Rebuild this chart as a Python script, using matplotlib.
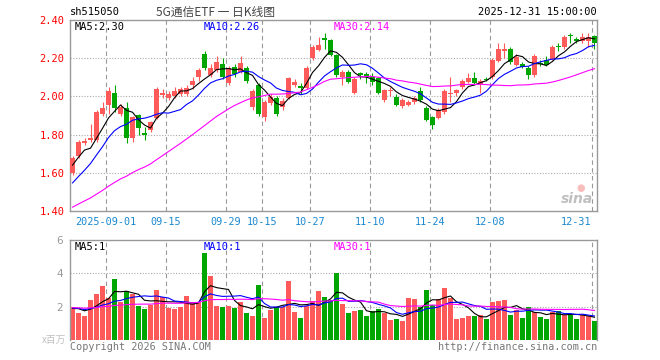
import numpy as np
import matplotlib
matplotlib.use("Agg")
import matplotlib.pyplot as plt

# daily candles of sh515050, 2025-08-22 .. 2025-12-31
opens = [1.60, 1.69, 1.755, 1.77, 1.77, 1.91, 1.955, 2.02, 1.91, 1.94,
         1.78, 1.90, 1.81, 1.825, 1.885, 2.005, 1.99, 2.00, 2.01, 2.01,
         2.06, 2.10, 2.22, 2.11, 2.14, 2.17, 2.07, 2.155, 2.13, 2.15,
         1.945, 2.06, 1.89, 1.965, 1.99, 1.945, 1.99, 2.06, 2.055, 2.045,
         2.20, 2.245, 2.305, 2.295, 2.217, 2.10, 2.13, 2.02, 2.12, 2.117,
         2.10, 2.096, 1.98, 2.03, 1.997, 1.95, 1.955, 1.97, 2.03, 1.94,
         1.89, 1.887, 1.92, 2.015, 2.018, 2.05, 2.075, 2.096, 2.065, 2.092,
         2.10, 2.185, 2.24, 2.25, 2.165, 2.17, 2.15, 2.11, 2.175, 2.19,
         2.196, 2.265, 2.26, 2.318, 2.30, 2.29, 2.29, 2.316]
closes = [1.68, 1.76, 1.765, 1.78, 1.92, 1.94, 2.03, 1.94, 1.945, 1.78,
          1.89, 1.835, 1.80, 1.865, 2.04, 2.02, 2.01, 2.03, 2.04, 2.045,
          2.08, 2.14, 2.15, 2.15, 2.18, 2.10, 2.15, 2.115, 2.175, 2.08,
          2.03, 1.91, 1.97, 1.995, 1.91, 1.975, 2.095, 2.075, 2.045, 2.15,
          2.26, 2.27, 2.295, 2.217, 2.11, 2.13, 2.075, 2.09, 2.11, 2.10,
          2.075, 2.02, 2.033, 2.035, 1.955, 1.98, 1.97, 1.99, 1.98, 1.876,
          1.85, 1.93, 2.03, 2.02, 2.033, 2.08, 2.096, 2.07, 2.08, 2.088,
          2.19, 2.25, 2.25, 2.18, 2.206, 2.155, 2.11, 2.21, 2.17, 2.165,
          2.26, 2.26, 2.31, 2.316, 2.29, 2.31, 2.31, 2.28]
highs = [1.69, 1.77, 1.78, 1.855, 1.93, 1.97, 2.05, 2.06, 1.96, 1.97,
         1.90, 1.91, 1.84, 1.87, 2.05, 2.04, 2.03, 2.05, 2.05, 2.06,
         2.10, 2.15, 2.24, 2.17, 2.21, 2.20, 2.16, 2.17, 2.21, 2.16,
         2.04, 2.07, 1.98, 2.01, 2.00, 1.99, 2.10, 2.09, 2.07, 2.16,
         2.27, 2.31, 2.33, 2.30, 2.22, 2.14, 2.14, 2.10, 2.13, 2.13,
         2.12, 2.10, 2.04, 2.05, 2.01, 1.99, 1.98, 2.00, 2.05, 1.95,
         1.90, 1.94, 2.04, 2.10, 2.04, 2.09, 2.12, 2.13, 2.09, 2.10,
         2.20, 2.28, 2.28, 2.26, 2.22, 2.18, 2.16, 2.22, 2.19, 2.21,
         2.27, 2.28, 2.32, 2.33, 2.31, 2.33, 2.33, 2.32]
lows = [1.59, 1.68, 1.745, 1.76, 1.76, 1.90, 1.91, 1.92, 1.90, 1.755,
        1.76, 1.80, 1.77, 1.815, 1.88, 1.99, 1.98, 1.99, 2.00, 2.00,
        2.04, 2.08, 2.14, 2.10, 2.13, 2.09, 2.06, 2.10, 2.12, 2.07,
        1.93, 1.90, 1.87, 1.955, 1.90, 1.93, 1.985, 2.05, 2.01, 2.04,
        2.19, 2.24, 2.25, 2.21, 2.10, 2.06, 2.07, 2.01, 2.09, 2.07,
        2.06, 2.01, 1.97, 2.00, 1.95, 1.94, 1.95, 1.96, 1.97, 1.87,
        1.83, 1.88, 1.91, 1.97, 2.00, 2.04, 2.07, 2.065, 2.02, 2.08,
        2.09, 2.18, 2.20, 2.17, 2.16, 2.15, 2.09, 2.10, 2.16, 2.16,
        2.19, 2.24, 2.25, 2.28, 2.28, 2.28, 2.26, 2.25]
# volume, millions of shares
volumes = [1.96, 1.64, 1.46, 2.40, 2.76, 3.24, 2.50, 3.66, 2.30, 2.94,
           2.76, 2.06, 1.86, 2.10, 3.00, 2.56, 1.94, 1.86, 2.00, 2.64,
           2.30, 2.30, 5.24, 3.84, 2.04, 2.00, 2.04, 1.94, 2.30, 1.64,
           1.44, 3.30, 1.34, 1.80, 1.96, 2.00, 3.54, 1.70, 1.34, 2.04,
           2.34, 2.94, 2.60, 2.40, 4.04, 2.16, 1.64, 1.74, 1.80, 1.44,
           1.74, 1.84, 1.64, 1.20, 1.26, 1.14, 2.52, 2.46, 2.00, 3.00,
           2.10, 2.46, 3.12, 2.52, 1.26, 1.32, 1.44, 1.44, 1.50, 1.26,
           2.28, 2.34, 2.40, 1.50, 1.80, 1.32, 1.98, 1.68, 1.38, 1.26,
           1.68, 1.74, 1.50, 1.50, 1.26, 1.50, 1.44, 1.14]

# the 29 sessions before the first candle (only feed the moving averages)
pre_closes = [1.26, 1.29, 1.30, 1.33, 1.35, 1.37, 1.36, 1.38, 1.35, 1.33,
              1.36, 1.40, 1.38, 1.37, 1.39, 1.36, 1.38, 1.40, 1.37, 1.40,
              1.42, 1.44, 1.43, 1.47, 1.51, 1.55, 1.58, 1.73, 1.66]
pre_volumes = [1.9, 2.1, 1.8, 2.0, 1.7, 2.2, 1.9, 1.8, 2.1, 2.0,
               1.9, 1.7, 2.2, 2.0, 1.8, 1.9, 2.1, 2.0, 1.8, 2.0,
               1.9, 2.2, 1.8, 1.9, 2.0, 1.7, 2.1, 1.9, 1.8]

date_pos = [6, 16, 26, 32, 40, 50, 60, 70, 87]
date_labels = ['2025-09-01', '09-15', '09-29', '10-15', '10-27',
               '11-10', '11-24', '12-08', '12-31']
price_ticks = [1.40, 1.60, 1.80, 2.00, 2.20, 2.40]
vol_ticks = [2, 4, 6]
ma_texts = ['MA5:2.30', 'MA10:2.26', 'MA30:2.14']
vol_ma_texts = ['MA5:1', 'MA10:1', 'MA30:1']

RED = '#ff5a5a'
GREEN = '#00a600'
MA_COLORS = ['black', '#0000ff', '#ff00ff']
MONO = 'DejaVu Sans Mono'
CJK = ['Noto Sans CJK SC', 'DejaVu Sans']


def moving_avg(pre, vals, n):
    full = np.array(pre + vals, dtype=float)
    out = np.convolve(full, np.ones(n) / n, mode='valid')
    return out[-len(vals):]


def fx(px):
    return px / 660.0


def fy(py):
    return 1 - py / 360.0


o = np.array(opens)
c = np.array(closes)
x = np.arange(len(c))
cols = np.where(c >= o, RED, GREEN)
xlim = (-0.42, len(c) - 1 + 0.42)
grid_x = [p - 0.42 for p in date_pos]

fig = plt.figure(figsize=(6.6, 3.6), dpi=100)
ax = fig.add_axes([fx(70), fy(211), fx(527), 191 / 360.0])
axv = fig.add_axes([fx(70), fy(340), fx(527), 100 / 360.0])

# ---- price panel
for gx in grid_x:
    ax.axvline(gx, color='#999999', lw=0.8, dashes=(4, 3), zorder=0)
for t in price_ticks[1:-1]:
    ax.axhline(t, color='#aaaaaa', lw=0.8, linestyle=(0, (1, 1.5)), zorder=0)

ax.vlines(x, lows, highs, colors=cols, lw=0.8, zorder=2)
body = np.maximum(np.abs(c - o), 0.004)
ax.bar(x, body, bottom=np.minimum(o, c), width=0.8, color=cols, zorder=3)

for n, col in zip([5, 10, 30], MA_COLORS):
    ax.plot(x, moving_avg(pre_closes, closes, n), color=col, lw=0.8, zorder=4)

ax.set_xlim(*xlim)
ax.set_ylim(1.40, 2.40)
ax.set_yticks(price_ticks)
ax.set_yticklabels(['%.2f' % t for t in price_ticks], color='red',
                   fontfamily=MONO, fontsize=7.5)
ax.set_xticks([])
ax.tick_params(axis='y', length=0, pad=4)
for s in ax.spines.values():
    s.set_color('#999999')
    s.set_linewidth(1)

for txt, col, px in zip(ma_texts, MA_COLORS, [75, 204, 334]):
    fig.text(fx(px), fy(27), txt, color=col, fontfamily=MONO, fontsize=7.5,
             va='center', ha='left')

# date labels under the price panel
for i, (gx, lab) in enumerate(zip(grid_x, date_labels)):
    ha = 'right' if i == len(grid_x) - 1 else 'center'
    xx = gx - 0.1 if ha == 'right' else gx
    ax.text(xx, -0.055, lab, transform=ax.get_xaxis_transform(), ha=ha,
            va='center', color='#1a88d0', fontfamily=MONO, fontsize=7.3)

# faint sina mark
fig.text(fx(577), fy(199), 'sina', color='#b0b0b0', alpha=0.8, fontsize=10,
         fontstyle='italic', fontweight='bold', ha='center', va='center')
fig.text(fx(581), fy(188), '●', color='#f4a0a0', alpha=0.7, fontsize=7,
         ha='center', va='center')

# ---- volume panel
for gx in grid_x:
    axv.axvline(gx, color='#999999', lw=0.8, dashes=(4, 3), zorder=0)
for t in vol_ticks[:-1]:
    axv.axhline(t, color='#aaaaaa', lw=0.8, linestyle=(0, (1, 1.5)), zorder=0)

axv.bar(x, volumes, width=0.85, color=cols, zorder=2)
for n, col in zip([5, 10, 30], MA_COLORS):
    axv.plot(x, moving_avg(pre_volumes, volumes, n), color=col, lw=0.8, zorder=3)

axv.set_xlim(*xlim)
axv.set_ylim(0, 6)
axv.set_yticks(vol_ticks)
axv.set_yticklabels([str(t) for t in vol_ticks], color='#999999', fontsize=7.5)
axv.set_xticks([])
axv.tick_params(axis='y', length=0, pad=5)
for s in axv.spines.values():
    s.set_color('#999999')
    s.set_linewidth(1)
axv.spines['bottom'].set_visible(False)

for txt, col, px in zip(vol_ma_texts, MA_COLORS, [75, 204, 334]):
    fig.text(fx(px), fy(247), txt, color=col, fontfamily=MONO, fontsize=7.5,
             va='center', ha='left')

# ---- header / footer texts
fig.text(fx(70), fy(12), 'sh515050', fontfamily=MONO, fontsize=7.5,
         color='black', va='center', ha='left')
fig.text(fx(216), fy(12), '5G通信ETF 一 日K线图', fontfamily=CJK, fontsize=8.5,
         color='#444444', va='center', ha='center')
fig.text(fx(597), fy(12), '2025-12-31 15:00:00', fontfamily=MONO, fontsize=7.5,
         color='black', va='center', ha='right')
fig.text(fx(66), fy(340), 'x百万', fontfamily=CJK, fontsize=7, color='#c0c0c0',
         va='center', ha='right')
fig.text(fx(70), fy(347), 'Copyright 2026 SINA.COM', fontfamily=MONO,
         fontsize=7.3, color='#777777', va='center', ha='left')
fig.text(fx(597), fy(347), 'http://finance.sina.com.cn', fontfamily=MONO,
         fontsize=7.3, color='#777777', va='center', ha='right')

fig.savefig('out.png', dpi=100, facecolor='white')
